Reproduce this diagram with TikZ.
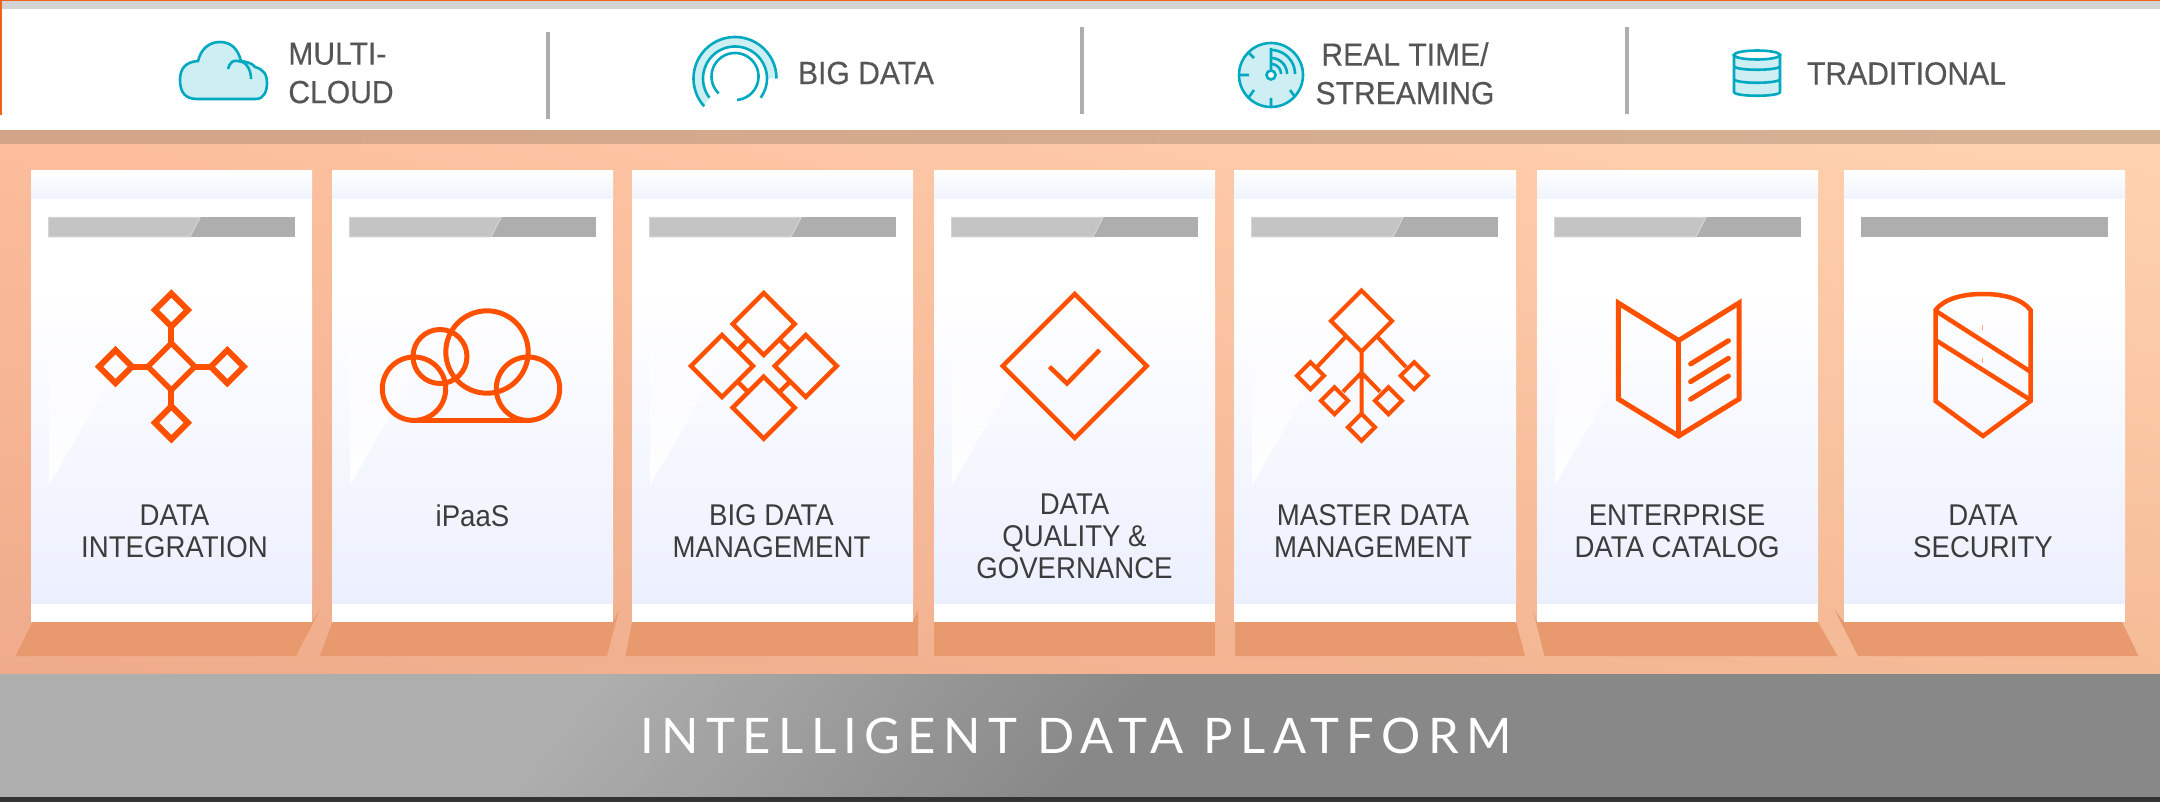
\documentclass[tikz,border=0pt]{standalone}
\usepackage{fontspec}
\usetikzlibrary{shadings,fadings}
\setmainfont{Liberation Sans}[FakeStretch=0.92]
\newfontfamily\hdrf{Liberation Sans}[FakeStretch=0.94,FakeBold=0.3]
\newfontfamily\platf{Lato}[LetterSpace=15]
\definecolor{orangeline}{HTML}{F0621C}
\definecolor{iconorange}{HTML}{FF5000}
\definecolor{teal}{HTML}{00A9C0}
\definecolor{tealfill}{HTML}{CDEEF3}
\definecolor{topgrey}{HTML}{D3D3D3}
\definecolor{divgrey}{HTML}{AEAEAE}
\definecolor{barlight}{HTML}{C4C4C4}
\definecolor{barlighter}{HTML}{D4D4D4}
\definecolor{shadowc}{HTML}{E9996E}
\definecolor{cardbot}{HTML}{ECF0FE}
\definecolor{cardmid}{HTML}{F9FAFF}
\definecolor{bandbot}{HTML}{F0F3FD}
\definecolor{platA}{HTML}{AEAEAE}
\definecolor{platB}{HTML}{888888}
\definecolor{labelc}{HTML}{3C3C3C}
\definecolor{headc}{HTML}{555555}
\definecolor{bandL}{HTML}{D3A488}
\definecolor{bandR}{HTML}{D6B295}
\definecolor{bgUL}{HTML}{FCBD9C}
\definecolor{bgUR}{HTML}{FFD3B0}
\definecolor{bgLL}{HTML}{EFAB8B}
\definecolor{bgLR}{HTML}{F5BB97}
\tikzset{
  iconline/.style={draw=iconorange,line width=#1,line join=miter,miter limit=10},
  iconline/.default=5pt,
  tealline/.style={draw=teal,line width=2.6pt},
  cardlabel/.style={inner sep=0pt,text=labelc,align=center,font=\fontsize{30}{32}\selectfont},
  headlabel/.style={inner sep=0pt,text=headc,font=\hdrf\fontsize{32}{38.5}\selectfont},
  divider/.style={draw=divgrey,line width=3.6pt},
}
\newcommand{\odia}[4]{\draw[iconline=#4] (#1,#2) ++(0,-#3) -- ++(#3,#3) -- ++(-#3,#3) -- ++(-#3,-#3) -- cycle;}
\begin{document}
\begin{tikzpicture}[x=1pt,y=-1pt]
\useasboundingbox (0,0) rectangle (2160,802);
% top strips
\fill[topgrey] (0,0) rectangle (2160,9);
\fill[orangeline] (0,0) rectangle (2160,1);
\fill[white] (0,9) rectangle (2160,131);
\fill[orangeline] (0,1) rectangle (2,115);
\shade[left color=bandL,right color=bandR] (0,131) rectangle (2160,145);
% peach background
\shade[upper left=bgUL,upper right=bgUR,lower left=bgLL,lower right=bgLR] (0,145) rectangle (2160,674);
% floor shadows
\foreach \pts in {
 {(32.6,622)--(312,622)--(320,610)--(296,656)--(15.6,656)},
 {(332.6,622)--(613,622)--(619,610)--(607,656)--(320,656)},
 {(632,622)--(913,622)--(918,610)--(918,656)--(625.5,656)},
 {(934,622)--(1215,622)--(1215,656)--(934,656)},
 {(1235,622)--(1516,622)--(1525,656)--(1235,656)},
 {(1533,610)--(1537,622)--(1818,622)--(1837.5,656)--(1544.5,656)},
 {(1834.6,610)--(1844,622)--(2122,622)--(2138.5,656)--(1858,656)}
}{\fill[shadowc] \pts -- cycle;}
% cards, bars and gloss
\foreach \l/\r [count=\n] in {31/312,332/613,632/913,934/1215,1234/1516,1537/1818,1844/2125}{
  \fill[white] (\l,603) rectangle (\r,622);
  \fill[white] (\l,199) rectangle (\r,290);
  \shade[top color=white,middle color=cardmid,bottom color=cardbot] (\l,290) rectangle (\r,603);
  \shade[top color=white,bottom color=bandbot] (\l,171) rectangle (\r,199);
  \fill[divgrey] ({\l+17},217) rectangle ({\l+264},237);
  \ifnum\n<7
    \fill[white,path fading=north] ({\l+18},485) -- ({\l+18},280) -- ({\l+137},280) -- cycle;
    \draw[barlighter,fill=barlight,line width=1pt] ({\l+17.5},237) -- ({\l+17.5},217.5) -- ({\l+169},217.5) -- ({\l+159},237) -- cycle;
  \fi
}
% dividers
\draw[divider] (548,32) -- (548,119);
\draw[divider] (1082,27) -- (1082,114);
\draw[divider] (1627,27) -- (1627,114);
% platform
\fill[platA] (0,674) rectangle (2160,797);
\foreach \i in {0,...,40}{
  \pgfmathsetmacro{\p}{\i*2.5}
  \pgfmathsetmacro{\q}{552+13.7*\i}
  \fill[platB!\p!platA] (\q+50,674) -- (2160,674) -- (2160,797) -- (\q-50,797) -- cycle;
}
\fill[black!80] (0,797) rectangle (2160,802);
% header icons: cloud
\draw[tealline,fill=tealfill] (197,99) .. controls (185,99) and (180,92) .. (180,80)
  .. controls (180,68) and (186,62) .. (198,61)
  .. controls (201,49) and (209,42) .. (220,42)
  .. controls (231,42) and (238,49) .. (241,61)
  .. controls (247,62) and (252,63) .. (255,67)
  .. controls (263,69) and (267,74) .. (267,83)
  .. controls (267,91) and (264,99) .. (256,99) -- cycle;
\draw[tealline] (228,69) .. controls (230,62) and (233,60) .. (238,61)
  .. controls (245,61) and (251,68) .. (251,79);
% header icons: big data
\fill[tealfill] plot[domain=0:222,samples=50] ({735+41.5*cos(\x)},{78.5-41.5*sin(\x)})
  -- plot[domain=217:0,samples=50] ({735+32*cos(\x)},{78.5-32*sin(\x)}) -- cycle;
\draw[tealline] plot[domain=0:222,samples=50] ({735+41.5*cos(\x)},{78.5-41.5*sin(\x)});
\draw[tealline] plot[domain=-37:217,samples=50] ({735+32*cos(\x)},{78.5-32*sin(\x)});
\draw[tealline] plot[domain=-85:226,samples=50] ({735+23.5*cos(\x)},{76.5-23.5*sin(\x)});
% header icons: clock
\draw[tealline,fill=tealfill] (1271,75) circle (32);
\draw[tealline] (1271,48) -- (1271,71) (1240,75) -- (1249,75) (1271,98) -- (1271,106)
  (1249,53) -- (1254,58) (1249,97) -- (1254,90) (1295,97) -- (1290,90);
\draw[tealline] plot[domain=0:90,samples=20] ({1271+24*cos(\x)},{74-24*sin(\x)});
\draw[tealline] plot[domain=0:90,samples=20] ({1271+16*cos(\x)},{74-16*sin(\x)});
\draw[tealline] plot[domain=0:90,samples=20] ({1271+10*cos(\x)},{74-10*sin(\x)});
\draw[tealline,fill=white] (1271,75) circle (4.5);
% header icons: database
\draw[tealline,fill=tealfill] (1734,55) -- (1734,92) .. controls (1734,97) and (1780,97) .. (1780,92) -- (1780,55) -- cycle;
\draw[tealline] (1734,66) .. controls (1734,71) and (1780,71) .. (1780,66);
\draw[tealline] (1734,79) .. controls (1734,84) and (1780,84) .. (1780,79);
\draw[tealline,fill=white] (1757,55) ellipse (23 and 4.5);
% icon 1: data integration
\odia{171.4}{366.7}{23.5}{5.5pt}
\odia{171.4}{310}{16.5}{6pt}
\odia{171.4}{422.7}{16.5}{6pt}
\odia{115.5}{366.7}{16.5}{6pt}
\odia{227.3}{366.7}{16.5}{6pt}
\draw[iconline=6pt] (171.4,326.5) -- (171.4,343.2) (171.4,390.2) -- (171.4,406.2)
  (132,366.7) -- (147.9,366.7) (194.9,366.7) -- (210.8,366.7);
% icon 2: iPaaS
\draw[iconline] (414,388.7) circle (31.7);
\draw[iconline] (440,356.5) circle (27);
\draw[iconline] (487,352) circle (41.2);
\draw[iconline] (528,388.7) circle (31.7);
\draw[iconline] (414,420.5) -- (528,420.5);
% icon 3: big data management
\odia{763.7}{324}{31}{4.5pt}
\odia{722}{366}{31}{4.5pt}
\odia{805.7}{366}{31}{4.5pt}
\odia{763.7}{407.7}{31}{4.5pt}
\draw[iconline=4.5pt] (748.2,339.5) -- (737.5,350.5) (779.2,339.5) -- (790.2,350.5)
  (737.5,381.5) -- (748.2,392.2) (790.2,381.5) -- (779.2,392.2);
% icon 4: data quality
\odia{1074.7}{366}{72}{4.5pt}
\draw[iconline=4.5pt] (1049.4,366.7) -- (1067,383.5) -- (1099.6,350);
% icon 5: master data
\odia{1361.5}{321}{30.5}{4pt}
\odia{1361.5}{427.3}{13.5}{4pt}
\odia{1310.5}{375.7}{13.5}{4pt}
\odia{1414.2}{375.7}{13.5}{4pt}
\odia{1334.5}{400.7}{13.5}{4pt}
\odia{1388.5}{400.7}{13.5}{4pt}
\draw[iconline=4pt] (1361.5,351.5) -- (1361.5,413.8)
  (1346,336.5) -- (1317,367) (1377,336.5) -- (1406,367)
  (1361.5,372.7) -- (1343,391.7) (1361.5,372.7) -- (1380,391.7);
% icon 6: catalog
\draw[iconline] (1618.3,303) -- (1678.6,340.5) -- (1739,303) -- (1739,399) -- (1678.6,436) -- (1618.3,399) -- cycle;
\draw[iconline=4.5pt] (1678.6,340.5) -- (1678.6,436);
\draw[iconline,line cap=round] (1690.6,364) -- (1728.4,340.7) (1690.6,381.7) -- (1728.4,358.3) (1690.6,399.3) -- (1728.4,376);
% icon 7: security
\draw[iconline=4.5pt] (1935.5,310) .. controls (1944,299) and (1962,294) .. (1983,294)
  .. controls (2004,294) and (2022,299) .. (2030.5,310) -- (2030.5,401) -- (1983,436) -- (1935.5,401) -- cycle;
\draw[iconline=4.5pt] (1935.5,310.7) -- (2030.5,371.7) (1935.5,340) -- (2030.5,400);
\draw[iconorange!50,line width=1pt] (1982.6,325) -- (1982.6,330) (1982.6,358.3) -- (1982.6,363.3);
% text
\node[headlabel,align=left] (hmulti) at (341,73) {MULTI-\\CLOUD};
\node[headlabel] (hbig) at (866,73) {BIG DATA};
\node[headlabel,align=center] (hreal) at (1405,73.5) {REAL TIME/\\STREAMING};
\node[headlabel] (htrad) at (1906.5,73.5) {TRADITIONAL};
\node[cardlabel] (l1) at (174.5,531) {DATA\\INTEGRATION};
\node[cardlabel] (l2) at (472.5,515.5) {iPaaS};
\node[cardlabel] (l3) at (771.5,531) {BIG DATA\\MANAGEMENT};
\node[cardlabel] (l4) at (1074.5,536) {DATA\\QUALITY \&\\GOVERNANCE};
\node[cardlabel] (l5) at (1373,531) {MASTER DATA\\MANAGEMENT};
\node[cardlabel] (l6) at (1677,531) {ENTERPRISE\\DATA CATALOG};
\node[cardlabel] (l7) at (1983,531) {DATA\\SECURITY};
\node[inner sep=0pt,text=white,font=\platf\fontsize{49}{49}\selectfont] (plat) at (1076,735.5) {INTELLIGENT DATA PLATFORM};
\end{tikzpicture}
\end{document}
